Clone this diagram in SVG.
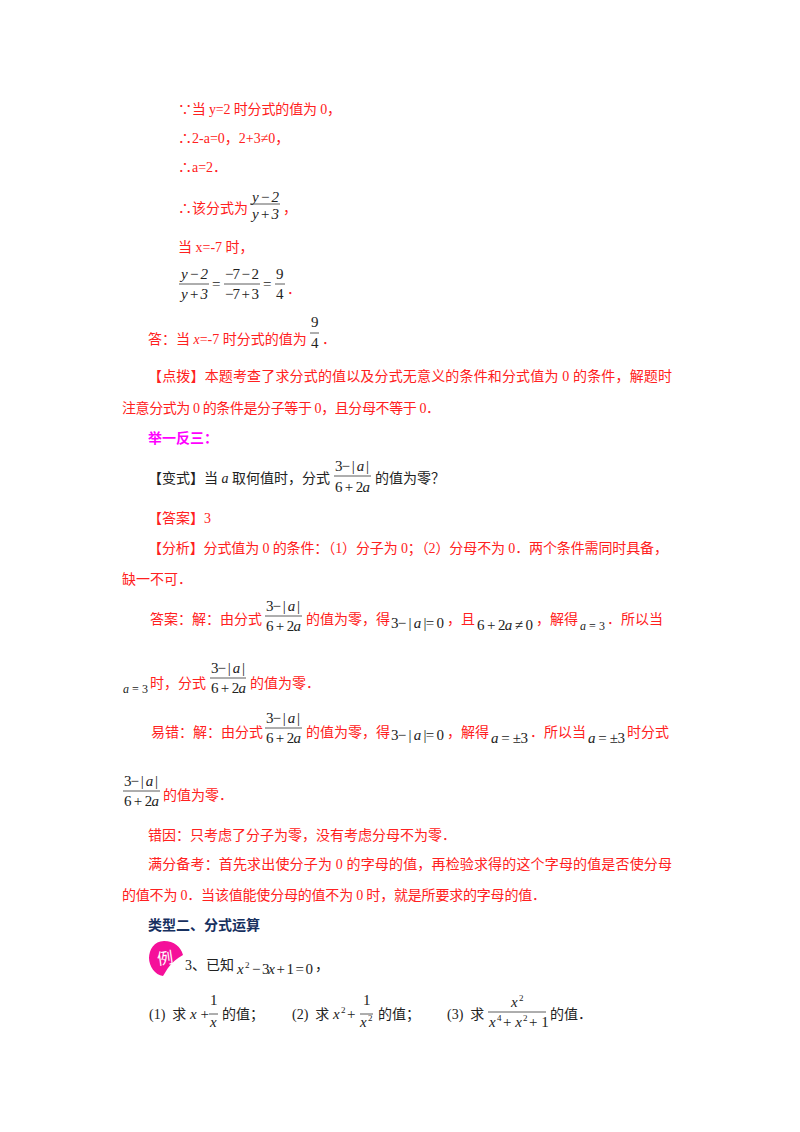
<svg xmlns="http://www.w3.org/2000/svg" width="800" height="1132" viewBox="0 0 800 1132">
<style>
text{font-family:"Liberation Serif","Noto Sans CJK SC",serif;font-size:14px;fill:#ff2020}
.m{fill:#222;font-size:15px}
.k{fill:#222}
.i{font-style:italic}
.s{font-size:9px;fill:#222}
.b{font-weight:700}
line{stroke:#333;stroke-width:.8}
</style>
<rect width="800" height="1132" fill="#fff"/>
<text x="178" y="114" textLength="163">∵当 y=2 时分式的值为 0，</text>
<text x="178" y="143">∴2-a=0，2+3≠0，</text>
<text x="178" y="172">∴a=2．</text>
<text x="178" y="213">∴该分式为</text>
<text class="m i" x="252" y="202" textLength="27">y − 2</text><line x1="250" x2="280" y1="204" y2="204"/><text class="m i" x="252" y="219" textLength="27">y + 3</text>
<text x="283" y="213">，</text>
<text x="178" y="252">当 x=-7 时，</text>
<text class="m i" x="181" y="279" textLength="27">y − 2</text><line x1="179" x2="209" y1="284" y2="284"/><text class="m i" x="181" y="299" textLength="27">y + 3</text>
<text class="m" x="212" y="289">=</text>
<text class="m" x="225" y="279" textLength="34">−7 − 2</text><line x1="224" x2="260" y1="284" y2="284"/><text class="m" x="225" y="299" textLength="34">−7 + 3</text>
<text class="m" x="263" y="289">=</text>
<text class="m" x="276" y="279">9</text><line x1="275" x2="285" y1="284" y2="284"/><text class="m" x="276" y="299">4</text>
<text x="287" y="294">．</text>
<text x="148" y="344">答：当 <tspan class="i">x</tspan>=-7 时分式的值为</text>
<text class="m" x="311" y="327">9</text><line x1="310" x2="319" y1="333" y2="333"/><text class="m" x="311" y="348">4</text>
<text x="322" y="344">．</text>

<text x="148" y="381" textLength="524">【点拨】本题考查了求分式的值以及分式无意义的条件和分式值为 0 的条件，解题时</text>
<text x="122" y="413" textLength="318">注意分式为 0 的条件是分子等于 0，且分母不等于 0．</text>
<text x="148" y="443" class="b" style="fill:#ff00ff">举一反三：</text>
<text x="148" y="483" class="k">【变式】当 <tspan class="i">a</tspan> 取何值时，分式</text>
<text class="m" x="335" y="471" textLength="34">3− | <tspan class="i">a</tspan> |</text><line x1="334" x2="371" y1="476" y2="476"/><text class="m" x="335" y="492" textLength="35">6 + 2<tspan class="i">a</tspan></text>
<text x="375" y="483" class="k">的值为零？</text>
<text x="148" y="523">【答案】3</text>
<text x="148" y="553" textLength="520">【分析】分式值为 0 的条件：（1）分子为 0；（2）分母不为 0．两个条件需同时具备，</text>
<text x="122" y="584">缺一不可．</text>

<text x="150" y="624">答案：解：由分式</text>
<text class="m" x="266" y="611" textLength="34">3− | <tspan class="i">a</tspan> |</text><line x1="265" x2="302" y1="616" y2="616"/><text class="m" x="266" y="631" textLength="35">6 + 2<tspan class="i">a</tspan></text>
<text x="306" y="624">的值为零，得</text>
<text class="m" x="391" y="628" textLength="53">3− | <tspan class="i">a</tspan> |= 0</text>
<text x="447" y="624">，且</text>
<text class="m" x="477" y="630" textLength="56">6 + 2<tspan class="i">a</tspan> ≠ 0</text>
<text x="536" y="624">，解得</text>
<text class="m" x="580" y="630" style="font-size:12px" textLength="25"><tspan class="i">a</tspan> = 3</text>
<text x="607" y="624">．所以当</text>
<text class="m" x="123" y="693" style="font-size:12px" textLength="25"><tspan class="i">a</tspan> = 3</text>
<text x="150" y="688">时，分式</text>
<text class="m" x="211" y="673" textLength="34">3− | <tspan class="i">a</tspan> |</text><line x1="210" x2="246" y1="678" y2="678"/><text class="m" x="211" y="693" textLength="35">6 + 2<tspan class="i">a</tspan></text>
<text x="250" y="688">的值为零．</text>

<text x="151" y="737">易错：解：由分式</text>
<text class="m" x="266" y="723" textLength="34">3− | <tspan class="i">a</tspan> |</text><line x1="265" x2="302" y1="728" y2="728"/><text class="m" x="266" y="743" textLength="35">6 + 2<tspan class="i">a</tspan></text>
<text x="306" y="737">的值为零，得</text>
<text class="m" x="391" y="740" textLength="53">3− | <tspan class="i">a</tspan> |= 0</text>
<text x="447" y="737">，解得</text>
<text class="m" x="491" y="743" textLength="37"><tspan class="i">a</tspan> = ±3</text>
<text x="530" y="737">．所以当</text>
<text class="m" x="588" y="743" textLength="37"><tspan class="i">a</tspan> = ±3</text>
<text x="627" y="737">时分式</text>
<text class="m" x="124" y="786" textLength="34">3− | <tspan class="i">a</tspan> |</text><line x1="123" x2="160" y1="791" y2="791"/><text class="m" x="124" y="806" textLength="35">6 + 2<tspan class="i">a</tspan></text>
<text x="163" y="800">的值为零．</text>

<text x="148" y="840">错因：只考虑了分子为零，没有考虑分母不为零．</text>
<text x="148" y="869" textLength="524">满分备考：首先求出使分子为 0 的字母的值，再检验求得的这个字母的值是否使分母</text>
<text x="122" y="900" textLength="424">的值不为 0．当该值能使分母的值不为 0 时，就是所要求的字母的值．</text>
<text x="148" y="930" class="b" style="fill:#17305f">类型二、分式运算</text>

<g id="badge">
<path d="M164 941C154 941 149 950 149 958C149 966 155 975 163 976C167 970 170 962 183 955C181 947 174 941 164 941Z" fill="#f5109a"/>
<text x="157" y="964" transform="rotate(-8 165 957)" style="fill:#fff;font-size:16px">例</text>
</g>
<text x="185" y="970" class="k">3、已知</text>
<text class="m" x="237" y="974"><tspan class="i">x</tspan></text><text class="s" x="245" y="968">2</text><text class="m" x="252" y="974" textLength="61">− 3<tspan class="i">x</tspan> + 1 = 0</text>
<text x="315" y="970" class="k">，</text>

<text x="149" y="1019" class="k">(1)&#160; 求</text>
<text class="m" x="190" y="1019"><tspan class="i">x</tspan> +</text>
<text class="m" x="210" y="1005">1</text><line x1="209" x2="218" y1="1014" y2="1014"/><text class="m i" x="210" y="1027">x</text>
<text x="222" y="1019" class="k">的值；</text>
<text x="292" y="1019" class="k">(2)&#160; 求</text>
<text class="m" x="333" y="1019"><tspan class="i">x</tspan></text><text class="s" x="341" y="1013">2</text><text class="m" x="347" y="1019">+</text>
<text class="m" x="363" y="1005">1</text><line x1="360" x2="373" y1="1014" y2="1014"/><text class="m i" x="360" y="1027">x</text><text class="s" x="368" y="1021">2</text>
<text x="378" y="1019" class="k">的值；</text>
<text x="447" y="1019" class="k">(3)&#160; 求</text>
<text class="m i" x="511" y="1007">x</text><text class="s" x="519" y="1001">2</text><line x1="488" x2="546" y1="1012" y2="1012"/>
<text class="m" x="489" y="1027"><tspan class="i">x</tspan></text><text class="s" x="497" y="1021">4</text><text class="m" x="503" y="1027">+ <tspan class="i">x</tspan></text><text class="s" x="523" y="1021">2</text><text class="m" x="529" y="1027">+ 1</text>
<text x="550" y="1019" class="k">的值．</text>
</svg>
